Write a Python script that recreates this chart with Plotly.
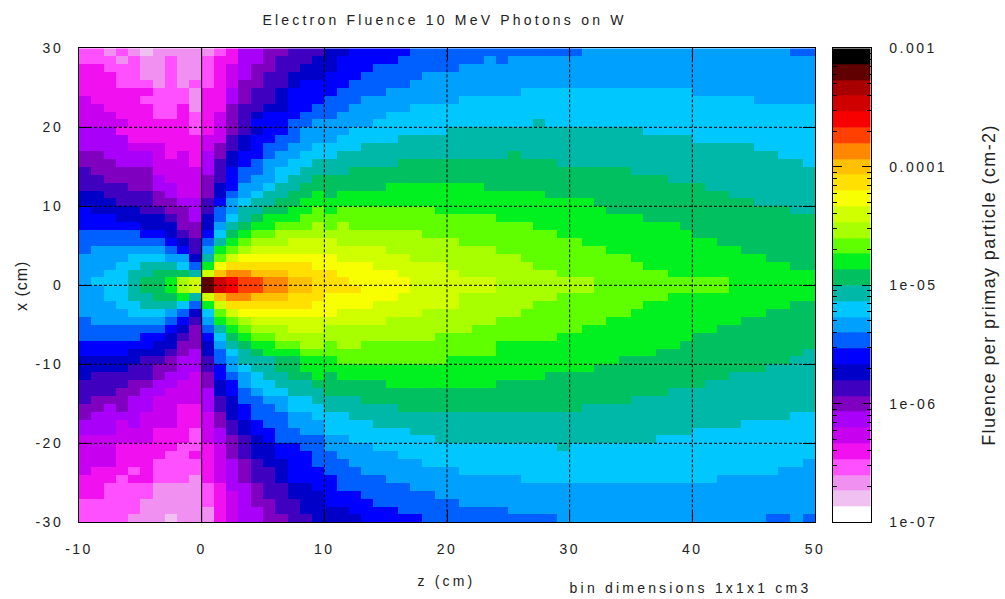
import numpy as np
import plotly.graph_objects as go

TITLE = "Electron Fluence 10 MeV Photons on W"
X_LABEL = "z (cm)"
Y_LABEL = "x (cm)"
BAR_LABEL = "Fluence per primay particle (cm-2)"
NOTE = "bin dimensions 1x1x1 cm3"

Z_TICKS = [-10, 0, 10, 20, 30, 40, 50]
Z_TICK_TEXT = ["-10", "0", "10", "20", "30", "40", "50"]
X_TICKS = [-30, -20, -10, 0, 10, 20, 30]
X_TICK_TEXT = ["-30", "-20", "-10", "0", "10", "20", "30"]
BAR_TICKS = [1e-7, 1e-6, 1e-5, 1e-4, 1e-3]
BAR_TICK_TEXT = ["1e-07", "1e-06", "1e-05", "0.0001", "0.001"]
BAR_MINOR = [m * 10.0 ** e for e in (-7, -6, -5, -4) for m in (2, 3, 4, 5, 6, 7, 8, 9)]

# 30 palette bands, lowest first, equal widths on a log axis 1e-7..1e-3
BAND_COLORS = [
    "#ffffff", "#f0c0f0", "#f090f0", "#ff50ff", "#f010f0", "#c800f0",
    "#a800f8", "#8000c0", "#4000c0", "#0000c8", "#0000ff", "#0060ff",
    "#00a0ff", "#00c8ff", "#00b8a8", "#00c060", "#00f020", "#60ff00",
    "#a8ff00", "#d0ff00", "#f8ff00", "#ffe000", "#ffc000", "#ff8800",
    "#ff4000", "#f80000", "#d00000", "#a80000", "#600000", "#000000",
]
BAND_KEYS = "0123456789abcdefghijklmnopqrst"

# Band read per 1 cm bin; each row is top (x=30) to bottom, z=-10 to 50, as band:count runs
ROWS = [
    "3:2 2:1 3:1 2:1 1:1 2:4 2:1 3:1 4:1 6:2 7:2 8:3 9:2 a:5 b:13 b:1 c:17 b:2",
    "3:3 2:1 3:1 2:2 3:1 2:2 3:1 4:2 6:2 7:1 8:3 9:1 9:1 a:5 b:7 c:1 b:1 c:25",
    "4:2 3:3 2:2 3:1 2:2 3:1 4:1 5:1 6:1 7:2 8:2 9:2 9:1 a:3 b:7 c:29",
    "4:3 3:2 2:2 3:1 2:2 3:1 4:1 5:1 6:1 7:1 8:2 9:3 a:3 b:5 c:32",
    "4:3 3:3 2:1 3:1 2:1 3:1 3:1 4:1 5:1 7:2 8:2 9:1 a:2 a:2 b:5 c:33",
    "4:6 3:3 2:1 4:2 6:1 7:1 8:2 9:1 a:3 a:1 b:4 c:11 d:14 c:10",
    "5:1 4:4 3:4 2:1 4:2 6:1 7:1 8:2 9:1 a:3 b:3 c:8 d:19 d:5 c:5",
    "5:2 4:4 3:2 4:1 2:1 4:2 7:1 8:2 9:2 a:2 b:1 b:2 c:5 d:33",
    "5:3 4:3 3:2 4:1 3:1 4:1 5:1 7:1 8:1 9:1 a:3 b:2 b:1 c:4 d:35",
    "5:4 4:5 3:1 4:1 5:1 7:1 8:1 a:3 b:2 c:1 c:4 d:13 e:1 d:22",
    "6:3 4:6 3:1 4:1 5:1 7:1 8:1 9:1 a:2 b:1 c:2 c:2 d:8 e:16 d:14",
    "6:4 4:6 5:2 8:1 9:1 a:2 b:2 c:2 c:1 d:5 e:24 d:10",
    "6:4 5:3 4:3 5:1 7:1 8:1 9:1 a:1 b:2 c:2 d:1 d:3 e:32 d:5",
    "7:2 6:4 5:1 4:1 5:1 4:1 6:1 7:1 9:1 a:2 b:1 c:2 d:2 d:1 e:14 f:1 e:21 d:3",
    "7:3 6:3 5:3 4:1 6:1 8:1 9:1 a:1 b:1 c:2 d:2 e:1 e:6 f:13 e:20 d:1",
    "8:1 7:5 5:4 6:1 8:1 a:1 b:2 c:1 d:2 e:2 e:2 f:23 e:15",
    "8:2 7:4 6:1 5:3 7:1 8:1 a:1 b:1 c:2 d:1 e:2 f:1 f:28 e:12",
    "8:4 7:2 6:2 5:2 7:1 9:1 a:1 c:2 d:1 e:2 f:2 f:5 g:8 f:18 e:9",
    "9:2 8:4 7:1 6:1 5:2 7:1 9:1 b:1 c:1 d:1 e:2 f:2 g:1 f:1 g:17 f:15 e:7",
    "9:3 8:3 7:2 6:2 8:1 a:1 c:1 d:1 e:2 f:2 g:2 g:22 f:13 e:5",
    "a:1 9:4 8:2 7:2 6:1 8:1 b:1 c:1 e:2 f:2 g:2 h:1 g:1 h:8 g:14 f:15 e:2",
    "a:3 9:4 8:1 7:1 6:1 9:1 b:1 d:1 e:1 f:1 g:3 h:2 h:14 g:12 f:14",
    "a:5 9:3 7:2 9:1 c:1 e:1 f:1 g:2 h:3 i:1 h:1 i:1 h:15 g:12 f:11",
    "b:5 a:2 9:1 8:1 7:1 a:1 d:1 f:1 g:1 h:2 i:4 i:8 h:11 g:11 f:10",
    "b:7 a:1 9:1 8:1 b:1 e:1 g:1 h:1 i:3 j:3 j:1 i:10 h:10 g:11 f:8",
    "b:1 c:6 b:1 a:1 8:1 c:1 g:1 h:1 i:1 j:6 j:5 i:9 h:9 g:11 f:6",
    "c:4 d:3 c:2 9:1 e:1 h:1 j:1 k:7 k:1 j:6 i:9 h:9 g:11 f:4",
    "c:3 d:2 e:3 d:1 b:1 g:1 k:1 l:7 k:1 k:4 j:6 i:7 h:9 g:12 f:2",
    "c:2 d:2 e:2 f:3 e:1 j:1 m:1 n:2 m:3 l:3 l:1 k:5 j:5 i:8 h:9 g:12",
    "c:1 d:3 e:1 f:2 g:1 i:1 j:1 s:1 q:1 p:1 o:2 n:2 m:2 l:1 l:2 k:5 j:7 i:8 h:11 g:7",
    "c:2 d:2 e:1 f:2 g:1 i:1 j:1 s:1 q:1 p:1 o:2 n:2 m:2 l:1 l:3 k:4 j:7 i:8 h:11 g:7",
    "c:2 d:2 e:2 f:2 g:1 e:1 j:1 m:1 n:2 m:3 l:3 k:6 j:5 i:8 h:9 g:12",
    "c:3 d:2 e:3 d:1 b:1 g:1 j:1 l:7 k:1 k:4 j:7 i:6 h:9 g:12 f:2",
    "c:4 d:3 c:1 b:1 9:1 d:1 h:1 j:1 k:7 k:1 j:7 i:8 h:9 g:11 f:4",
    "b:1 c:6 b:1 a:1 8:1 c:1 g:1 h:1 i:1 j:6 j:5 i:9 h:9 g:11 f:6",
    "b:7 a:1 9:1 7:1 b:1 e:1 g:1 h:1 i:3 j:3 i:12 h:9 g:11 f:8",
    "b:5 a:2 9:1 8:1 7:1 a:1 d:1 f:1 g:1 h:2 i:4 i:9 h:10 g:11 f:10",
    "a:6 9:2 7:2 9:1 c:1 e:1 f:1 g:2 h:2 i:2 h:1 i:2 h:11 g:15 f:11",
    "a:4 9:3 8:1 7:1 6:1 9:1 b:1 d:1 e:1 f:1 g:3 h:2 h:14 g:13 f:12 e:1",
    "9:5 8:2 7:1 6:2 8:1 b:1 c:1 e:3 f:2 g:2 g:1 h:9 g:14 f:14 e:2",
    "9:4 8:2 7:2 6:2 8:1 a:1 c:1 d:1 e:2 f:2 g:2 g:22 f:14 e:4",
    "9:1 8:5 7:1 6:2 5:1 7:1 a:1 b:1 c:1 d:1 e:2 f:2 g:1 f:1 g:17 f:15 e:7",
    "8:4 7:2 6:2 5:2 7:1 9:1 a:1 c:1 d:2 e:3 f:1 f:5 g:9 f:17 e:9",
    "8:3 7:2 6:2 5:3 6:1 9:1 a:1 b:1 c:1 d:2 e:3 f:28 e:12",
    "8:1 7:3 6:2 5:4 6:1 8:1 9:1 b:2 c:2 d:2 e:1 e:3 f:22 e:15",
    "7:2 6:1 7:1 6:2 5:2 4:2 6:1 8:1 9:1 a:1 b:2 c:1 d:3 e:6 f:15 e:19",
    "7:1 6:4 5:3 4:2 5:1 7:1 9:1 a:1 b:3 c:2 d:1 d:2 e:36 d:2",
    "6:3 5:1 6:1 5:3 4:2 5:1 7:1 8:1 9:1 a:1 b:2 c:3 d:4 e:30 d:6",
    "6:3 5:3 4:3 3:1 5:1 6:1 8:1 9:1 a:2 b:2 c:2 d:7 e:23 d:10",
    "5:6 4:3 3:1 5:1 6:1 7:1 8:1 9:1 a:1 b:4 c:2 d:7 e:18 d:13",
    "5:3 4:5 3:2 4:1 5:1 7:1 8:1 9:2 a:2 b:2 c:4 d:15 e:1 d:20",
    "5:3 4:4 3:2 4:1 4:1 5:1 7:1 8:1 9:2 a:3 b:1 b:1 c:5 d:34",
    "5:3 4:3 3:4 4:1 5:1 6:1 7:1 8:1 9:2 a:2 b:1 b:2 c:6 d:31 c:1",
    "5:1 4:3 3:1 4:1 3:4 4:1 5:1 6:1 7:1 8:2 9:1 a:3 b:3 c:8 d:26 c:3",
    "4:3 3:1 4:2 3:3 2:1 4:1 5:1 6:1 7:1 8:2 9:1 a:3 a:1 b:4 c:11 d:16 c:8",
    "4:2 3:4 2:4 3:1 4:1 6:2 7:1 8:2 9:2 a:1 a:1 b:6 c:33",
    "4:2 3:4 2:4 3:1 4:1 5:1 6:1 7:1 8:2 9:3 a:3 b:6 c:31",
    "3:5 2:5 3:1 4:1 5:1 6:1 7:2 8:2 9:2 a:4 b:7 c:29",
    "3:5 2:5 2:1 4:1 5:1 6:2 7:1 8:2 9:2 9:2 a:4 b:9 c:25",
    "3:4 2:3 1:1 2:2 2:1 4:1 5:1 6:2 7:2 8:2 9:1 9:3 a:5 b:11 c:1 c:16 b:2 c:1 b:1",
]


def decode(row):
    out = []
    for token in row.split():
        key, count = token.split(":")
        out += [BAND_KEYS.index(key)] * int(count)
    return out


grid = [decode(r) for r in ROWS]
for n, g in enumerate(grid):
    if len(g) != 60:
        raise ValueError(f"row {n} has {len(g)}")

LOG_MIN, LOG_MAX = -7.0, -3.0
n_bands = len(BAND_COLORS)
step = (LOG_MAX - LOG_MIN) / n_bands
log_fluence = LOG_MIN + (np.array(grid, dtype=float) + 0.5) * step

colorscale = []
for i, c in enumerate(BAND_COLORS):
    colorscale += [[i / n_bands, c], [(i + 1) / n_bands, c]]

z_edges = np.arange(-10, 51)
x_edges = np.arange(30, -31, -1)
band_edges = 10 ** (LOG_MIN + step * np.arange(n_bands + 1))
band_centres = LOG_MIN + step * (np.arange(n_bands) + 0.5)

W, H = 1005, 599
FONT = "Liberation Sans, Arial, sans-serif"
TEXT = "#222222"
tick_font = dict(family=FONT, size=14, color=TEXT)

fig = go.Figure()
fig.add_trace(go.Heatmap(
    x=z_edges, y=x_edges, z=log_fluence, zmin=LOG_MIN, zmax=LOG_MAX,
    colorscale=colorscale, showscale=False, xaxis="x", yaxis="y",
))
fig.add_trace(go.Heatmap(
    x=[0, 1], y=band_edges, z=[[v] for v in band_centres], zmin=LOG_MIN, zmax=LOG_MAX,
    colorscale=colorscale, showscale=False, xaxis="x2", yaxis="y2",
))

grid_line = dict(color="black", width=1, dash="3px,2px")
shapes = []
for v in Z_TICKS[1:-1]:
    line = dict(color="black", width=1) if v == 0 else grid_line
    shapes.append(dict(type="line", xref="x", yref="paper", x0=v, x1=v, y0=(H - 522.3) / H, y1=(H - 48.3) / H,
                       line=line, layer="above"))
for v in X_TICKS[1:-1]:
    shapes.append(dict(type="line", xref="paper", yref="y", x0=79 / W, x1=815 / W, y0=v, y1=v,
                       line=grid_line, layer="above"))

dom_y = [(H - 522.3) / H, (H - 48.3) / H]
axis_common = dict(showgrid=False, zeroline=False, showline=True, linecolor="black", linewidth=1,
                   mirror="allticks", ticks="inside", ticklen=12, tickcolor="black", tickfont=tick_font)
fig.update_layout(
    width=W, height=H, margin=dict(l=0, r=0, t=0, b=0, autoexpand=False),
    paper_bgcolor="white", plot_bgcolor="white", showlegend=False, shapes=shapes,
    xaxis=dict(domain=[79 / W, 815 / W], range=[-10, 50], tickmode="array", tickvals=Z_TICKS,
               ticktext=Z_TICK_TEXT, ticklabelstandoff=14, anchor="y", **axis_common),
    yaxis=dict(domain=dom_y, range=[-30, 30], tickmode="array", tickvals=X_TICKS,
               ticktext=X_TICK_TEXT, ticklabelstandoff=12, anchor="x", **axis_common),
    xaxis2=dict(domain=[833 / W, 870.5 / W], range=[0, 1], showticklabels=False, ticks="", anchor="y2",
                showgrid=False, zeroline=False, showline=True, linecolor="black", linewidth=1, mirror=True),
    yaxis2=dict(domain=dom_y, type="log", range=[LOG_MIN, LOG_MAX], side="right", anchor="x2",
                tickmode="array", tickvals=BAR_TICKS, ticktext=BAR_TICK_TEXT, ticks="inside", ticklen=9,
                tickcolor="black", tickfont=tick_font, ticklabelstandoff=15,
                minor=dict(tickmode="array", tickvals=BAR_MINOR, ticks="inside", ticklen=4, tickcolor="black"),
                showgrid=False, zeroline=False, showline=True, linecolor="black", linewidth=1, mirror="allticks"),
    annotations=[
        dict(text=TITLE, x=445 / W, y=1 - 20 / H, xref="paper", yref="paper", showarrow=False,
             font=dict(family=FONT, size=14, color=TEXT), xanchor="center", yanchor="middle"),
        dict(text=X_LABEL, x=446 / W, y=1 - 581 / H, xref="paper", yref="paper", showarrow=False,
             font=dict(family=FONT, size=14, color=TEXT), xanchor="center", yanchor="middle"),
        dict(text=NOTE, x=690 / W, y=1 - 588 / H, xref="paper", yref="paper", showarrow=False,
             font=dict(family=FONT, size=14, color=TEXT), xanchor="center", yanchor="middle"),
        dict(text=Y_LABEL, x=21 / W, y=1 - 286 / H, xref="paper", yref="paper", showarrow=False, textangle=-90,
             font=dict(family=FONT, size=16, color=TEXT), xanchor="center", yanchor="middle"),
        dict(text=BAR_LABEL, x=989 / W, y=1 - 285 / H, xref="paper", yref="paper", showarrow=False, textangle=-90,
             font=dict(family=FONT, size=18, color=TEXT), xanchor="center", yanchor="middle"),
    ],
)

POST = """
document.body.style.margin = '0';
var st = document.createElement('style');
st.textContent = '.xtick text, .ytick text, .x2tick text, .y2tick text {letter-spacing: 2.5px;}'
  + ' .annotation-text {letter-spacing: 3.2px;}'
  + ' .annotation[data-index="3"] .annotation-text {letter-spacing: 1px;}'
  + ' .annotation[data-index="4"] .annotation-text {letter-spacing: 1.4px;}';
document.head.appendChild(st);
"""
fig.write_html("out.html", post_script=POST, config=dict(displayModeBar=False))
